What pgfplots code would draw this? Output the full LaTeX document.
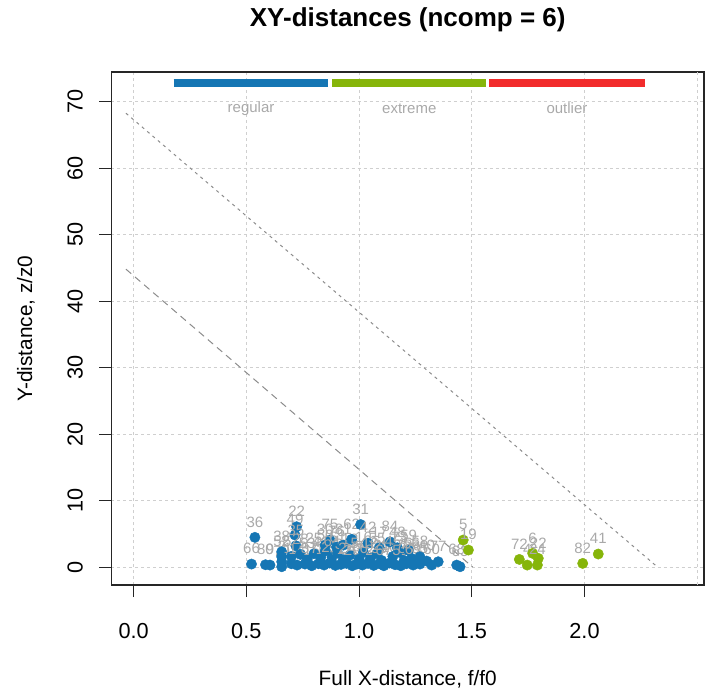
\documentclass[border=0pt]{standalone}
\usepackage{pgfplots}
\pgfplotsset{compat=1.18}
\usepackage{pgfplotstable}
\usepackage{fontspec}
\setmainfont{Liberation Sans}

\definecolor{reg}{HTML}{1576B4}
\definecolor{ext}{HTML}{86B50A}
\definecolor{outl}{HTML}{F22C2C}
\definecolor{lab}{HTML}{A9A9A9}
\definecolor{gridc}{HTML}{CFCFCF}
\definecolor{limc}{HTML}{8C8C8C}

\newcommand\lblfont{\fontsize{15}{18}\selectfont}

% regular objects
\pgfplotstableread{
x y lab
0.523 0.45 66
0.585 0.35 80
0.605 0.30 9
0.657 0.05 70
0.657 0.80 2
0.657 1.55 52
0.657 2.30 38
0.538 4.47 36
0.700 0.50 11
0.700 1.60 57
0.716 4.82 49
0.723 6.07 22
0.720 3.20 35
0.725 0.30 14
0.740 1.90 28
0.760 0.45 3
0.770 1.20 53
0.790 0.20 15
0.800 2.00 25
0.820 0.50 71
0.830 1.40 46
0.845 0.30 18
0.850 2.40 50
0.850 3.30 30
0.870 0.60 21
0.871 4.07 75
0.880 1.50 64
0.895 0.25 8
0.900 3.00 76
0.905 2.10 61
0.920 0.40 1
0.930 1.10 33
0.930 3.30 81
0.945 0.55 26
0.960 1.80 13
0.967 4.17 62
0.970 0.20 29
0.990 0.45 43
1.000 1.20 54
1.007 6.40 31
1.015 0.30 37
1.020 2.20 16
1.040 0.55 65
1.040 3.60 42
1.050 1.30 10
1.065 0.25 27
1.080 2.00 55
1.090 0.50 39
1.090 2.90 17
1.100 1.00 23
1.110 0.20 67
1.135 0.60 20
1.137 3.80 84
1.150 1.60 45
1.160 0.35 7
1.170 2.90 48
1.180 2.20 73
1.185 0.20 51
1.200 1.00 78
1.210 0.50 34
1.220 2.50 59
1.233 1.30 56
1.240 0.30 69
1.270 0.45 85
1.270 1.55 58
1.300 0.90 40
1.322 0.30 60
1.351 0.80 77
1.433 0.30 68
1.448 0.05 63
}\regular

% extreme objects
\pgfplotstableread{
x y lab
1.462 4.07 5
1.485 2.56 19
1.711 1.15 72
1.746 0.30 4
1.770 2.06 6
1.795 1.31 22
1.791 0.30 24
1.992 0.55 82
2.061 1.96 41
}\extreme

\begin{document}
\begin{tikzpicture}
\begin{axis}[
    name=ax,
    scale only axis,
    width=592.5pt, height=513pt,
    xmin=-0.098, xmax=2.530,
    ymin=-2.7, ymax=74.5,
    font=\fontsize{21.7}{26}\selectfont,
    xtick={0,0.5,1,1.5,2},
    xticklabels={0.0,0.5,1.0,1.5,2.0},
    ytick={0,10,...,70},
    yticklabels={0,10,20,30,40,50,60,70},
    extra x ticks={2.5},
    extra x tick labels={},
    extra x tick style={major tick length=0pt},
    tick align=outside,
    xtick pos=bottom, ytick pos=left,
    major tick length=12pt,
    tick style={black!85, line width=1pt},
    axis line style={black!85, line width=1.3pt},
    xticklabel style={anchor=north, inner sep=0pt},
    xticklabel shift=26pt,
    yticklabel style={rotate=90, anchor=south, inner sep=0pt},
    yticklabel shift=16.5pt,
    grid=major,
    major grid style={gridc, dash pattern=on 3pt off 3pt, line width=1pt},
    title={XY-distances (ncomp = 6)},
    every axis title/.style={at={(0.5,1)}, anchor=center, yshift=52pt,
        font=\fontsize{26}{31}\selectfont\bfseries},
    xlabel={Full X-distance, f/f0},
    every axis x label/.style={at={(0.5,0)}, anchor=center, yshift=-94pt,
        font=\fontsize{20.8}{25}\selectfont},
    ylabel={Y-distance, z/z0},
    every axis y label/.style={at={(0,0.5)}, anchor=center, xshift=-85.5pt, rotate=90,
        font=\fontsize{20.8}{25}\selectfont},
]
% critical limits
\addplot[limc, line width=1pt, dash pattern=on 3pt off 4pt] coordinates {(-0.034,68.3) (2.324,0)};
\addplot[limc, line width=1pt, dash pattern=on 7pt off 5pt] coordinates {(-0.034,44.83) (1.504,0)};

% legend bars
\addplot[reg, line width=8pt] coordinates {(0.178,72.9) (0.864,72.9)};
\addplot[ext, line width=8pt] coordinates {(0.881,72.9) (1.565,72.9)};
\addplot[outl, line width=8pt] coordinates {(1.577,72.9) (2.268,72.9)};
\node[lab, font=\lblfont] at (axis cs:0.521,69.0) {regular};
\node[lab, font=\lblfont] at (axis cs:1.223,69.0) {extreme};
\node[lab, font=\lblfont] at (axis cs:1.922,69.0) {outlier};

\addplot[only marks, mark=*, mark size=5.2pt, reg,
    point meta=explicit symbolic, nodes near coords,
    nodes near coords style={font=\lblfont, text=lab, anchor=center, yshift=15.5pt, inner sep=0pt}]
    table[meta=lab] {\regular};
\addplot[only marks, mark=*, mark size=5.2pt, ext,
    point meta=explicit symbolic, nodes near coords,
    nodes near coords style={font=\lblfont, text=lab, anchor=center, yshift=15.5pt, inner sep=0pt}]
    table[meta=lab] {\extreme};
\end{axis}
\pgfresetboundingbox
\path (ax.south west) ++(-111.5pt,-111pt) rectangle ++(714pt,696pt);
\end{tikzpicture}
\end{document}
